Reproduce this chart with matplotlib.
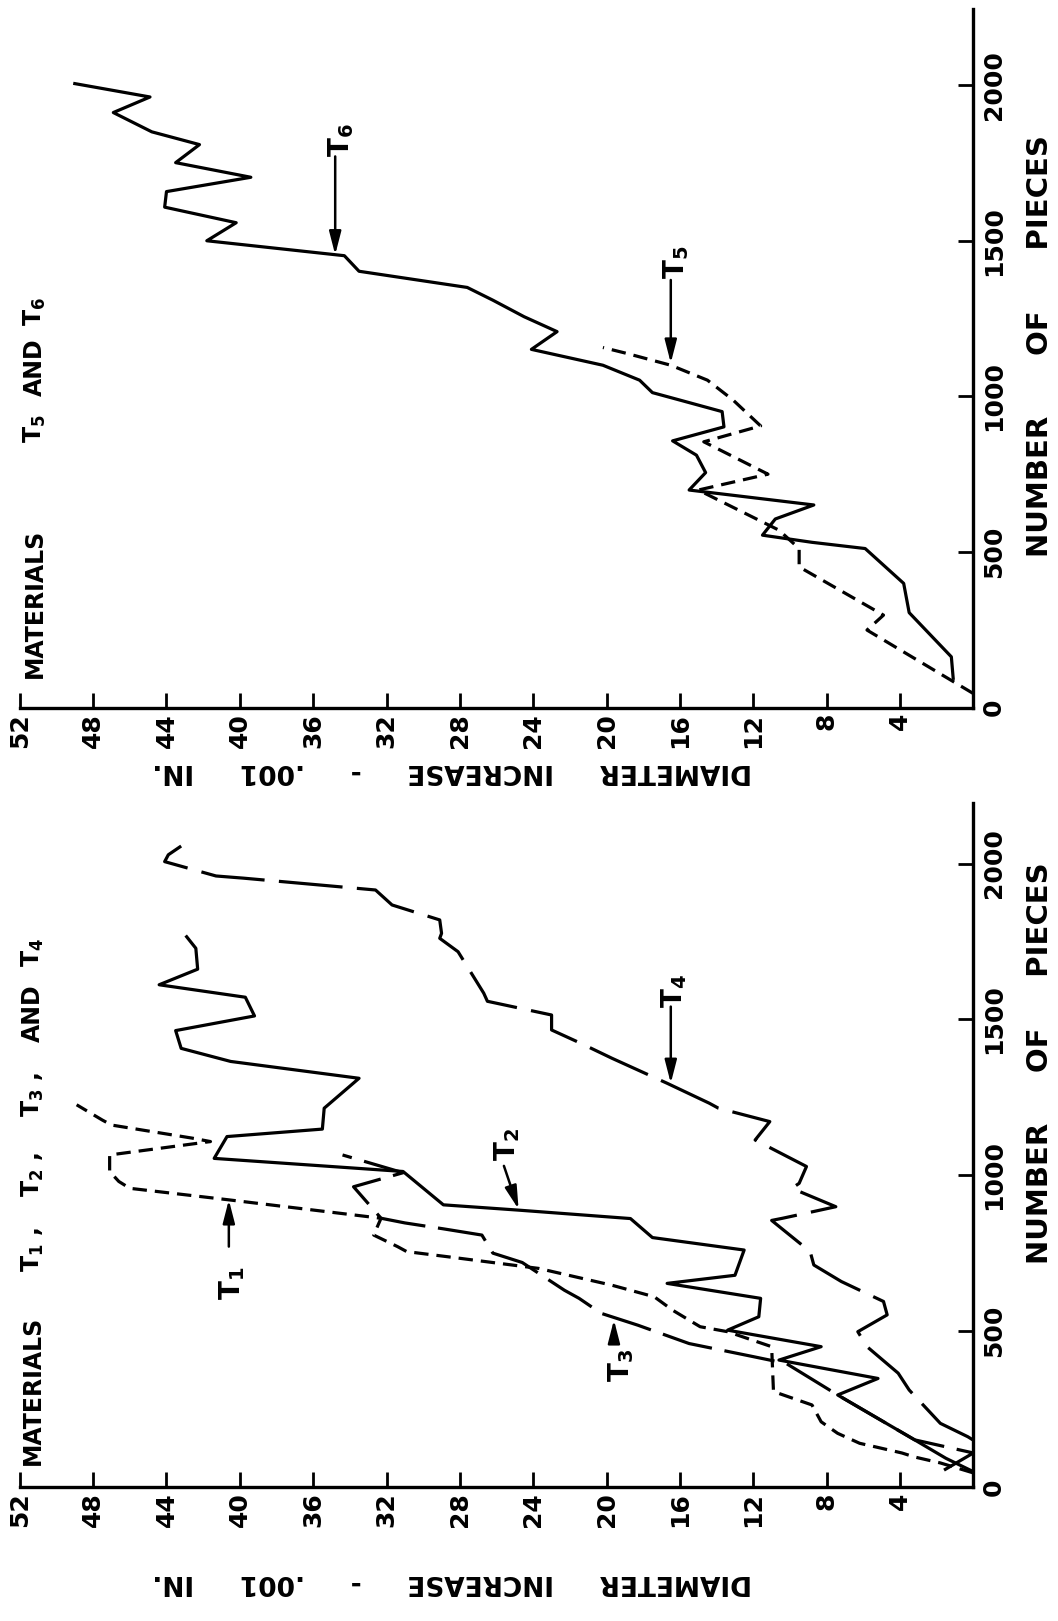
import matplotlib.pyplot as plt

# ---- data (diameter increase in .001 in. vs number of pieces) ----
# panel 1: materials T5 and T6
t5_pieces = [45, 249, 297, 452, 511, 570, 699, 750, 854, 905, 988, 1052, 1100, 1138, 1157]
t5_dia = [0, 5.8, 4.9, 9.5, 9.5, 10.6, 15.0, 11.2, 14.7, 11.6, 13.1, 14.5, 16.5, 18.9, 20.2]

t6_pieces = [94, 163, 305, 399, 511, 531, 554, 606, 651, 699, 755, 811, 857, 902, 951, 988,
             1012, 1052, 1100, 1151, 1208, 1256, 1309, 1350, 1402, 1452, 1500, 1558, 1608,
             1658, 1704, 1751, 1809, 1850, 1912, 1962, 2005]
t6_dia = [1.1, 1.2, 3.5, 3.8, 5.9, 8.8, 11.5, 10.8, 8.7, 15.5, 14.6, 15.1, 16.4, 13.6, 13.7, 16.0,
          17.5, 18.2, 20.2, 24.1, 22.7, 24.5, 26.2, 27.6, 33.5, 34.3, 41.8, 40.2, 44.1,
          44.0, 39.4, 43.5, 42.2, 44.8, 46.9, 44.9, 49.0]

# panel 2: materials T1, T2, T3 and T4
t1_pieces = [45, 77, 96, 109, 128, 140, 172, 209, 263, 306, 450, 498, 514, 567, 610, 647, 701,
             738, 755, 771, 808, 862, 921, 958, 980, 1012, 1065, 1108, 1119, 1161, 1177, 1226]
t1_dia = [0, 1.8, 3.2, 3.9, 5.3, 6.2, 7.4, 8.3, 8.8, 10.9, 11.0, 13.4, 14.9, 16.4, 17.4, 19.7, 23.7,
          28.6, 30.9, 31.4, 32.7, 32.3, 40.6, 46.0, 46.6, 47.1, 47.1, 41.6, 42.6, 47.0, 47.5, 48.9]

t2_pieces = [49, 92, 151, 295, 348, 407, 450, 503, 546, 605, 653, 679, 760, 800, 861, 888, 905,
             1012, 1054, 1124, 1148, 1215, 1311, 1365, 1407, 1464, 1511, 1571, 1611, 1661, 1728, 1765]
t2_dia = [0, 1.5, 3.2, 7.4, 5.2, 10.6, 8.3, 13.4, 11.7, 11.6, 16.7, 13.0, 12.5, 17.5, 18.7, 24.8, 28.9,
          31.1, 41.4, 40.7, 35.5, 35.4, 33.5, 40.5, 43.2, 43.5, 39.2, 39.7, 44.4, 42.3, 42.4, 42.9]

t3_pieces = [54, 109, 151, 295, 396, 418, 460, 519, 557, 605, 631, 720, 750, 808, 828, 847, 862,
             963, 1008, 1065]
t3_dia = [1.6, 0, 3.2, 7.4, 10.2, 12.0, 15.5, 18.3, 20.3, 21.5, 22.3, 24.6, 26.2, 26.8, 28.9, 31.0, 32.3,
          33.8, 31.1, 34.4]

t4_pieces = [150, 161, 204, 311, 365, 450, 498, 552, 595, 659, 712, 755, 855, 862, 899, 958, 974,
             1028, 1113, 1172, 1215, 1231, 1295, 1375, 1423, 1466, 1514, 1558, 1584, 1717, 1760,
             1776, 1819, 1867, 1915, 1953, 1960, 2006, 2028, 2056]
t4_dia = [0, 0.3, 1.8, 3.5, 4.1, 5.8, 6.3, 4.7, 4.9, 7.2, 8.7, 8.9, 11.0, 10.4, 7.5, 9.9, 9.5,
          9.1, 11.9, 11.1, 13.9, 14.4, 16.7, 19.7, 21.4, 23.0, 23.0, 26.5, 26.7, 28.1, 29.1,
          29.0, 29.1, 31.7, 32.6, 39.8, 41.3, 44.1, 43.9, 43.2]

dia_ticks = list(range(0, 53, 4))
dia_labels = [''] + [str(v) for v in dia_ticks[1:]]
piece_ticks = [0, 500, 1000, 1500, 2000]

plt.rcParams['font.family'] = ['DejaVu Sans']
plt.rcParams['font.weight'] = 'bold'
plt.rcParams['mathtext.fontset'] = 'dejavusans'
plt.rcParams['mathtext.default'] = 'bf'

SHORT = (0, (4.5, 2.5))
LONG3 = (0, (16, 4))
LONG4 = (0, (20, 4.5))
LW = 2.3

fig = plt.figure(figsize=(10.58, 16.21), dpi=100)
ax_top = fig.add_axes([0.0187, 0.5635, 0.9013, 0.4310])
ax_bot = fig.add_axes([0.0187, 0.0827, 0.9013, 0.4221])


def style(ax, ymax):
    # the page is turned: diameter runs right-to-left, pieces run upward
    ax.set_xlim(52, 0)
    ax.set_ylim(0, ymax)
    for s in ('left', 'top'):
        ax.spines[s].set_visible(False)
    for s in ('right', 'bottom'):
        ax.spines[s].set_linewidth(2.4)
    ax.yaxis.tick_right()
    ax.set_xticks(dia_ticks)
    ax.set_xticklabels(dia_labels)
    ax.set_yticks(piece_ticks)
    ax.set_yticklabels([str(v) for v in piece_ticks])
    ax.tick_params(direction='in', length=11, width=2)
    ax.tick_params(axis='x', labelrotation=90, labelsize=18, pad=4)
    ax.tick_params(axis='y', labelrotation=90, labelsize=18, pad=6)
    for lab in ax.get_yticklabels():
        lab.set_va('center')


def tag(ax, text, pos, tail, tip):
    ax.text(pos[0], pos[1], text, rotation=90, ha='center', va='center', fontsize=20)
    ax.annotate('', xy=tip, xytext=tail,
                arrowprops=dict(arrowstyle='-|>,head_length=0.7,head_width=0.18',
                                lw=1.8, color='black', shrinkA=0, shrinkB=0,
                                mutation_scale=20))


def title(ax, words, x):
    for word, p in words:
        ax.text(x, p, word, rotation=90, ha='center', va='bottom', fontsize=17)


# ---- top panel ----
style(ax_top, 2245)
ax_top.plot(t5_dia, t5_pieces, color='black', lw=LW, linestyle=SHORT)
ax_top.plot(t6_dia, t6_pieces, color='black', lw=LW)
tag(ax_top, '$T_5$', (16.2, 1430), (16.5, 1374), (16.5, 1107))
tag(ax_top, '$T_6$', (34.5, 1822), (34.8, 1771), (34.8, 1455))
title(ax_top, [('MATERIALS', 95), ('$T_5$', 850), ('AND', 1000), ('$T_6$', 1225)], 51.2)
ax_top.text(28.4, -0.091, 'DIAMETER     INCREASE     -     .001     IN.',
            transform=ax_top.get_xaxis_transform(), rotation=180,
            ha='center', va='center', fontsize=19)
ax_top.text(1.07, 1162, 'NUMBER      OF      PIECES', transform=ax_top.get_yaxis_transform(),
            rotation=90, ha='center', va='center', fontsize=21)

# ---- bottom panel ----
style(ax_bot, 2195)
ax_bot.plot(t1_dia, t1_pieces, color='black', lw=LW, linestyle=SHORT)
ax_bot.plot(t2_dia, t2_pieces, color='black', lw=LW)
ax_bot.plot(t3_dia, t3_pieces, color='black', lw=LW, linestyle=LONG3)
ax_bot.plot(t4_dia, t4_pieces, color='black', lw=LW, linestyle=LONG4)
tag(ax_bot, '$T_1$', (40.4, 654), (40.6, 771), (40.6, 921))
tag(ax_bot, '$T_2$', (25.4, 1100), (25.6, 1030), (24.8, 891))
tag(ax_bot, '$T_3$', (19.2, 391), (19.6, 472), (19.6, 536))
tag(ax_bot, '$T_4$', (16.3, 1590), (16.5, 1541), (16.5, 1295))
title(ax_bot, [('MATERIALS', 71), ('$T_1$ ,', 690), ('$T_2$ ,', 930), ('$T_3$ ,', 1187),
               ('AND', 1428), ('$T_4$', 1668)], 51.3)
ax_bot.text(28.4, -0.139, 'DIAMETER     INCREASE     -     .001     IN.',
            transform=ax_bot.get_xaxis_transform(), rotation=180,
            ha='center', va='center', fontsize=19)
ax_bot.text(1.07, 1360, 'NUMBER     OF     PIECES', transform=ax_bot.get_yaxis_transform(),
            rotation=90, ha='center', va='center', fontsize=21)

fig.savefig('out.png', dpi=100)
